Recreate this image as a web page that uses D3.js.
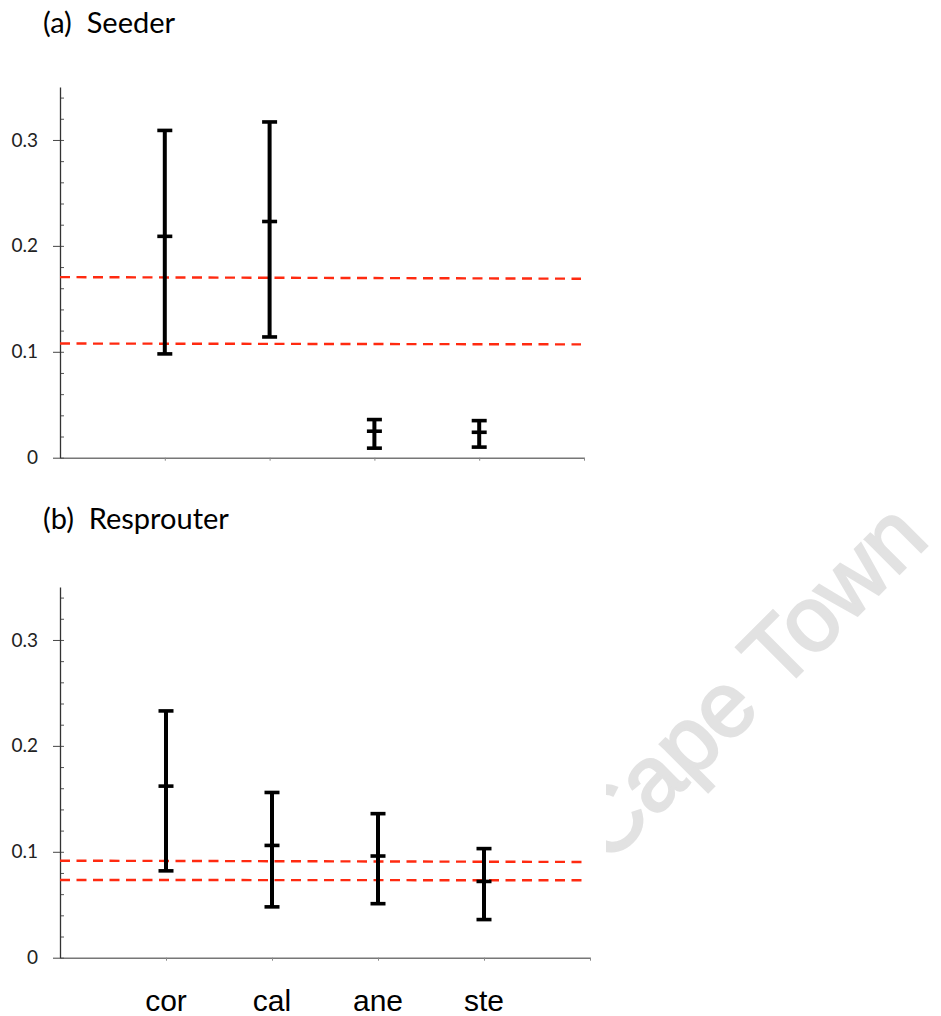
<!DOCTYPE html>
<html>
<head>
<meta charset="utf-8">
<script src="https://cdn.jsdelivr.net/npm/d3@7"></script>
<style>
  body { margin: 0; background: #fff; }
  svg { display: block; }
</style>
</head>
<body>
<svg width="941" height="1016"></svg>
<script>
const species = ["cor", "cal", "ane", "ste"]
const yLabels = [0, 0.1, 0.2, 0.3]

// seeder estimates: low, mid, high
const seederLow = [0.098, 0.114, 0.009, 0.010]
const seederMid = [0.209, 0.223, 0.025, 0.024]
const seederHigh = [0.309, 0.317, 0.036, 0.035]
// red dashed reference lines, value at left end and right end
const seederRefStart = [0.1705, 0.1078]
const seederRefEnd = [0.169, 0.107]

const sprouterLow = [0.082, 0.048, 0.051, 0.036]
const sprouterMid = [0.162, 0.106, 0.096, 0.072]
const sprouterHigh = [0.233, 0.156, 0.136, 0.103]
const sprouterRefStart = [0.0916, 0.0734]
const sprouterRefEnd = [0.0904, 0.0731]

const svg = d3.select("svg")

// watermark behind, cut off where the chart image starts
svg.append("clipPath").attr("id", "wm")
  .append("rect")
  .attr("x", 606).attr("y", 0).attr("width", 400).attr("height", 1016)
svg.append("g")
  .attr("clip-path", "url(#wm)")
  .append("text")
  .attr("transform", "translate(607,866) rotate(-45)")
  .attr("font-family", "Liberation Sans, Arial, sans-serif")
  .attr("font-size", 92)
  .attr("fill", "#e2e2e2")
  .attr("stroke", "#e2e2e2")
  .attr("stroke-width", 2.5)
  .text("Cape Town")

function panel(cfg) {
  let g = svg.append("g")
  let x = d3.scaleLinear().domain([0, 5]).range([60, cfg.right])
  let y = d3.scaleLinear().domain([0, 0.35]).range([cfg.bottom, cfg.top])

  g.append("text")
    .attr("x", 43).attr("y", cfg.titleY)
    .attr("font-family", "Lato, sans-serif")
    .attr("font-size", 29)
    .attr("xml:space", "preserve")
    .text(cfg.title)

  // x axis
  let xa = g.append("g")
    .attr("transform", `translate(0,${cfg.bottom})`)
    .call(d3.axisBottom(x).tickValues([1, 2, 3, 4, 5]).tickSize(3).tickSizeOuter(0).tickFormat(""))
  xa.select(".domain").attr("stroke", "#777").attr("stroke-width", 1.6)
  xa.selectAll(".tick line").attr("stroke", "#888")

  // minor ticks on the inside
  let minor = d3.range(0, 0.35, 0.02)
  let ym = g.append("g")
    .attr("transform", "translate(60,0)")
    .call(d3.axisRight(y).tickValues(minor).tickSize(4).tickSizeOuter(0).tickFormat(""))
  ym.select(".domain").remove()
  ym.selectAll(".tick line").attr("stroke", "#555")

  let ya = g.append("g")
    .attr("transform", "translate(60,0)")
    .call(d3.axisLeft(y).tickValues(yLabels).tickSize(7).tickSizeOuter(0).tickPadding(15)
      .tickFormat(d => d == 0 ? "0" : d3.format(".1f")(d)))
  ya.select(".domain").attr("stroke", "#333").attr("stroke-width", 1.3)
  ya.selectAll(".tick line").attr("stroke", "#444")
  ya.selectAll(".tick text")
    .attr("font-family", "Lato, sans-serif")
    .attr("font-size", 19)
    .attr("fill", "#222")

  // reference lines
  g.selectAll(".ref")
    .data(cfg.refStart).enter()
    .append("line")
    .attr("x1", x(0)).attr("x2", cfg.refRight)
    .attr("y1", d => y(d))
    .attr("y2", (d, i) => y(cfg.refEnd[i]))
    .attr("stroke", "#ff2a10")
    .attr("stroke-width", 2.4)
    .attr("stroke-dasharray", "10,6.5")

  // error bars
  let bars = g.selectAll(".bar")
    .data(species).enter()
    .append("g")
    .attr("stroke", "#000")
    .attr("stroke-width", 4)
  bars.append("line")
    .attr("x1", (d, i) => x(i + 1)).attr("x2", (d, i) => x(i + 1))
    .attr("y1", (d, i) => y(cfg.low[i]))
    .attr("y2", (d, i) => y(cfg.high[i]))
  for (let arr of [cfg.low, cfg.mid, cfg.high]) {
    bars.append("line")
      .attr("x1", (d, i) => x(i + 1) - 7.5).attr("x2", (d, i) => x(i + 1) + 7.5)
      .attr("y1", (d, i) => y(arr[i]))
      .attr("y2", (d, i) => y(arr[i]))
      .attr("stroke-width", 3.6)
  }

  if (cfg.labels) {
    g.selectAll(".cat")
      .data(species).enter()
      .append("text")
      .attr("x", (d, i) => x(i + 1))
      .attr("y", 1011)
      .attr("text-anchor", "middle")
      .attr("font-family", "Liberation Sans, Arial, sans-serif")
      .attr("font-size", 30)
      .text(d => d)
  }
}

panel({
  title: "(a)  Seeder", titleY: 33,
  top: 87, bottom: 457.7, right: 584, refRight: 581,
  low: seederLow, mid: seederMid, high: seederHigh,
  refStart: seederRefStart, refEnd: seederRefEnd, labels: false
})

panel({
  title: "(b)  Resprouter", titleY: 529,
  top: 587, bottom: 957.7, right: 590, refRight: 583,
  low: sprouterLow, mid: sprouterMid, high: sprouterHigh,
  refStart: sprouterRefStart, refEnd: sprouterRefEnd, labels: true
})
</script>
</body>
</html>
